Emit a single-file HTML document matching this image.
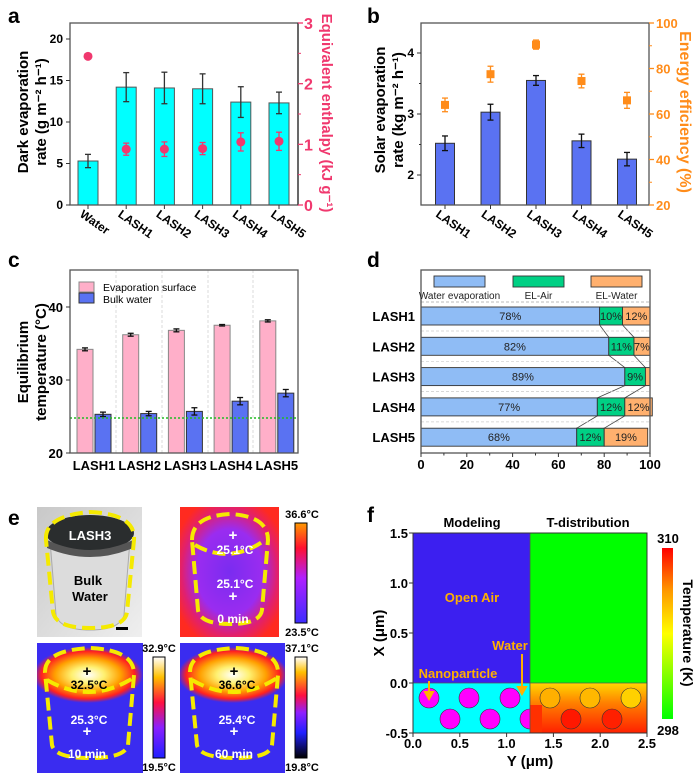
<!DOCTYPE html>
<html><head><meta charset="utf-8">
<style>
html,body{margin:0;padding:0;background:#fff;}
svg{display:block;font-family:"Liberation Sans",Arial,sans-serif;}
.b{font-weight:bold;}
</style></head>
<body>
<svg id="fig" width="700" height="782" viewBox="0 0 700 782" xmlns="http://www.w3.org/2000/svg">
<defs>
<linearGradient id="cb1" x1="0" y1="1" x2="0" y2="0"><stop offset="0" stop-color="#3c2cff"/><stop offset="0.45" stop-color="#b020ff"/><stop offset="0.75" stop-color="#ff1030"/><stop offset="1" stop-color="#ff9a00"/></linearGradient>
<linearGradient id="cb2" x1="0" y1="1" x2="0" y2="0"><stop offset="0" stop-color="#2020ff"/><stop offset="0.3" stop-color="#8a20ff"/><stop offset="0.55" stop-color="#ff1040"/><stop offset="0.8" stop-color="#ffc000"/><stop offset="1" stop-color="#ffffff"/></linearGradient>
<linearGradient id="cb3" x1="0" y1="1" x2="0" y2="0"><stop offset="0" stop-color="#000000"/><stop offset="0.25" stop-color="#2020ff"/><stop offset="0.45" stop-color="#9020ff"/><stop offset="0.62" stop-color="#ff1040"/><stop offset="0.85" stop-color="#ffc000"/><stop offset="1" stop-color="#ffffff"/></linearGradient>
<linearGradient id="cbf" x1="0" y1="1" x2="0" y2="0"><stop offset="0" stop-color="#00ff00"/><stop offset="0.5" stop-color="#ffff00"/><stop offset="0.75" stop-color="#ff9900"/><stop offset="1" stop-color="#ff0000"/></linearGradient>
<radialGradient id="th1" cx="0.5" cy="0.5" r="0.6"><stop offset="0" stop-color="#7a2cf0"/><stop offset="0.55" stop-color="#9a2cf0"/><stop offset="0.8" stop-color="#e02070"/><stop offset="1" stop-color="#ff2a20"/></radialGradient>
<radialGradient id="hot" cx="0.5" cy="0.5" r="0.5"><stop offset="0" stop-color="#ffffff"/><stop offset="0.3" stop-color="#fff070"/><stop offset="0.6" stop-color="#ffa000"/><stop offset="0.85" stop-color="#ff2020"/><stop offset="1" stop-color="#ff2020" stop-opacity="0"/></radialGradient>
<linearGradient id="photo" x1="0" y1="0" x2="1" y2="1"><stop offset="0" stop-color="#c8c8c8"/><stop offset="1" stop-color="#efefef"/></linearGradient>
<linearGradient id="fbot" x1="0" y1="0" x2="0" y2="1"><stop offset="0" stop-color="#ffd800"/><stop offset="0.4" stop-color="#ff8000"/><stop offset="1" stop-color="#ff2000"/></linearGradient>
<clipPath id="clip2"><rect x="37" y="643" width="106" height="130"/></clipPath>
<clipPath id="clip3"><rect x="180" y="643" width="105" height="130"/></clipPath>
</defs>

<!-- panel letters -->
<text class="b" x="8" y="23" font-size="21">a</text>
<text class="b" x="367" y="23" font-size="21">b</text>
<text class="b" x="8" y="267" font-size="21">c</text>
<text class="b" x="367" y="267" font-size="21">d</text>
<text class="b" x="8" y="525" font-size="21">e</text>
<text class="b" x="367" y="522" font-size="21">f</text>

<!-- axis titles -->
<g class="b" font-size="15" text-anchor="middle">
<text transform="translate(28,112) rotate(-90)">Dark evaporation</text>
<text transform="translate(46,112) rotate(-90)">rate (g m⁻² h⁻¹)</text>
</g>
<text class="b" font-size="15" fill="#f0386e" text-anchor="middle" transform="translate(322,113) rotate(90)">Equivalent enthalpy (kJ g⁻¹)</text>
<g class="b" font-size="15" text-anchor="middle">
<text transform="translate(385,110) rotate(-90)">Solar evaporation</text>
<text transform="translate(403,110) rotate(-90)">rate (kg m⁻² h⁻¹)</text>
</g>
<text class="b" font-size="16" fill="#ff8c1a" text-anchor="middle" transform="translate(680,112) rotate(90)">Energy efficiency (%)</text>
<g class="b" font-size="15" text-anchor="middle">
<text transform="translate(28,362) rotate(-90)">Equilibrium</text>
<text transform="translate(46,362) rotate(-90)">temperature (°C)</text>
</g>

<!-- panel e -->
<g>
<rect x="37" y="507" width="105" height="130" fill="url(#photo)"/>
<path d="M50 540 L56 615 Q60 630 90 630 Q120 630 124 615 L130 540 Z" fill="#dcdcdc" stroke="#aaa"/>
<ellipse cx="90" cy="533" rx="44" ry="18" fill="#2a2d2e"/>
<path d="M47 540 Q90 560 133 540 L133 548 Q90 566 47 548 Z" fill="#555"/>
<text class="b" x="90" y="540" font-size="13" fill="#fff" text-anchor="middle">LASH3</text>
<text class="b" x="88" y="585" font-size="13" text-anchor="middle">Bulk</text>
<text class="b" x="90" y="601" font-size="13" text-anchor="middle">Water</text>
<path d="M46 540 Q44 516 90 512 Q136 514 134 540 L127 612 Q125 628 90 628 Q56 628 53 612 Z" fill="none" stroke="#f5ea00" stroke-width="4" stroke-dasharray="13 6"/>
<rect x="116" y="627" width="12" height="3" fill="#000"/>
</g>
<g>
<rect x="180" y="507" width="99" height="130" fill="url(#th1)"/>
<path d="M192 540 Q192 516 230 514 Q268 516 268 540 L262 610 Q260 624 230 624 Q200 624 198 610 Z" fill="none" stroke="#f5ea00" stroke-width="4" stroke-dasharray="13 6"/>
<path d="M195 545 Q230 565 265 540" fill="none" stroke="#f5ea00" stroke-width="4" stroke-dasharray="13 6"/>
<text class="b" x="233" y="540" font-size="15" fill="#fff" text-anchor="middle">+</text>
<text class="b" x="235" y="554" font-size="12" fill="#fff" text-anchor="middle">25.1°C</text>
<text class="b" x="235" y="588" font-size="12" fill="#fff" text-anchor="middle">25.1°C</text>
<text class="b" x="233" y="601" font-size="15" fill="#fff" text-anchor="middle">+</text>
<text class="b" x="233" y="623" font-size="12" fill="#fff" text-anchor="middle">0 min</text>
<rect x="295" y="523" width="12" height="100" fill="url(#cb1)" stroke="#000"/>
<text class="b" x="302" y="518" font-size="11" text-anchor="middle">36.6°C</text>
<text class="b" x="302" y="636" font-size="11" text-anchor="middle">23.5°C</text>
</g>
<g>
<g clip-path="url(#clip2)">
<rect x="37" y="643" width="106" height="130" fill="#3a2cf0"/>
<ellipse cx="88" cy="675" rx="55" ry="28" fill="url(#hot)"/>
</g>
<path d="M45 672 Q45 650 90 648 Q135 650 134 675 L128 745 Q125 758 90 758 Q55 758 52 745 Z" fill="none" stroke="#f5ea00" stroke-width="4" stroke-dasharray="13 6"/>
<path d="M47 680 Q90 705 133 678" fill="none" stroke="#f5ea00" stroke-width="4" stroke-dasharray="13 6"/>
<text class="b" x="87" y="676" font-size="15" text-anchor="middle">+</text>
<text class="b" x="89" y="689" font-size="12" text-anchor="middle">32.5°C</text>
<text class="b" x="89" y="724" font-size="12" fill="#fff" text-anchor="middle">25.3°C</text>
<text class="b" x="87" y="736" font-size="15" fill="#fff" text-anchor="middle">+</text>
<text class="b" x="87" y="758" font-size="12" fill="#fff" text-anchor="middle">10 min</text>
<rect x="153" y="657" width="12" height="101" fill="url(#cb2)" stroke="#000"/>
<text class="b" x="159" y="652" font-size="11" text-anchor="middle">32.9°C</text>
<text class="b" x="159" y="771" font-size="11" text-anchor="middle">19.5°C</text>
</g>
<g>
<g clip-path="url(#clip3)">
<rect x="180" y="643" width="105" height="130" fill="#3a2cf0"/>
<ellipse cx="233" cy="675" rx="55" ry="28" fill="url(#hot)"/>
</g>
<path d="M190 672 Q190 650 235 648 Q280 650 278 675 L272 745 Q270 758 235 758 Q200 758 197 745 Z" fill="none" stroke="#f5ea00" stroke-width="4" stroke-dasharray="13 6"/>
<path d="M192 680 Q235 705 277 678" fill="none" stroke="#f5ea00" stroke-width="4" stroke-dasharray="13 6"/>
<text class="b" x="234" y="676" font-size="15" text-anchor="middle">+</text>
<text class="b" x="237" y="689" font-size="12" text-anchor="middle">36.6°C</text>
<text class="b" x="237" y="724" font-size="12" fill="#fff" text-anchor="middle">25.4°C</text>
<text class="b" x="234" y="736" font-size="15" fill="#fff" text-anchor="middle">+</text>
<text class="b" x="234" y="758" font-size="12" fill="#fff" text-anchor="middle">60 min</text>
<rect x="295" y="657" width="12" height="101" fill="url(#cb3)" stroke="#000"/>
<text class="b" x="302" y="652" font-size="11" text-anchor="middle">37.1°C</text>
<text class="b" x="302" y="771" font-size="11" text-anchor="middle">19.8°C</text>
</g>

<!-- panel f -->
<g>
<rect x="413" y="533" width="117" height="150" fill="#3c1ff0"/>
<rect x="530" y="533" width="117" height="150" fill="#00ff00"/>
<rect x="413" y="683" width="117" height="50" fill="#00ffff"/>
<rect x="530" y="683" width="117" height="50" fill="url(#fbot)"/>
<g fill="#ff00ff" stroke="#333" stroke-width="0.6">
<circle cx="429" cy="698" r="10"/><circle cx="469" cy="698" r="10"/><circle cx="510" cy="698" r="10"/>
<circle cx="450" cy="719" r="10"/><circle cx="490" cy="719" r="10"/><circle cx="530" cy="719" r="10"/>
</g>
<rect x="530" y="705" width="12" height="28" fill="#ff3000"/>
<g fill="none" stroke="#333" stroke-width="0.6">
<circle cx="550" cy="698" r="10" fill="#ffb000"/><circle cx="590" cy="698" r="10" fill="#ffb800"/><circle cx="631" cy="698" r="10" fill="#ffd000"/>
<circle cx="571" cy="719" r="10" fill="#ff1800"/><circle cx="612" cy="719" r="10" fill="#ff2000"/>
</g>
<line x1="530" y1="533" x2="530" y2="733" stroke="#555" stroke-width="0.8"/>
<line x1="413" y1="683" x2="647" y2="683" stroke="#555" stroke-width="0.8"/>
<rect x="413" y="533" width="234" height="200" fill="none" stroke="#333"/>
<text class="b" x="472" y="527" font-size="13" text-anchor="middle">Modeling</text>
<text class="b" x="588" y="527" font-size="13" text-anchor="middle">T-distribution</text>
<text class="b" x="472" y="602" font-size="13" fill="#ffb000" text-anchor="middle">Open Air</text>
<text class="b" x="510" y="650" font-size="13" fill="#ffb000" text-anchor="middle">Water</text>
<text class="b" x="458" y="678" font-size="13" fill="#ffb000" text-anchor="middle">Nanoparticle</text>
<g stroke="#ffb000" stroke-width="2" fill="#ffb000">
<line x1="522" y1="654" x2="522" y2="689"/><path d="M518 687 L526 687 L522 694 Z"/>
<line x1="429" y1="681" x2="429" y2="694"/><path d="M425 692 L433 692 L429 699 Z"/>
</g>
<rect x="662" y="548" width="11" height="171" fill="url(#cbf)"/>
<text class="b" x="668" y="543" font-size="13" text-anchor="middle">310</text>
<text class="b" x="668" y="735" font-size="13" text-anchor="middle">298</text>
<text class="b" font-size="14" text-anchor="middle" transform="translate(683,633) rotate(90)">Temperature (K)</text>
<text class="b" x="530" y="766" font-size="15" text-anchor="middle">Y (μm)</text>
<text class="b" font-size="15" text-anchor="middle" transform="translate(384,633) rotate(-90)">X (μm)</text>
</g>
<g id="dyn"></g>
</svg>
<script>
const NS='http://www.w3.org/2000/svg';
const root=document.getElementById('dyn');
function mk(tag,attrs,parent){const e=document.createElementNS(NS,tag);for(const k in attrs)e.setAttribute(k,attrs[k]);(parent||root).appendChild(e);return e;}

// ---------- data ----------
const aCats=['Water','LASH1','LASH2','LASH3','LASH4','LASH5'];
const aRate=[5.3,14.2,14.1,14.0,12.4,12.3];
const aRateErr=[0.8,1.75,1.9,1.8,1.85,1.3];
const aEnth=[2.45,0.92,0.92,0.93,1.04,1.05];
const aEnthErr=[0,0.1,0.12,0.1,0.15,0.15];
const aLeftTicks=[0,5,10,15,20];
const aRightTicks=[0,1,2,3];

const bCats=['LASH1','LASH2','LASH3','LASH4','LASH5'];
const bRate=[2.52,3.03,3.55,2.56,2.26];
const bRateErr=[0.12,0.13,0.08,0.11,0.11];
const bEff=[64,77.5,90.5,74.5,66];
const bEffErr=[3,3.5,2,3,3.5];
const bLeftTicks=[2,3,4];
const bRightTicks=[20,40,60,80,100];

const cCats=['LASH1','LASH2','LASH3','LASH4','LASH5'];
const cSurf=[34.2,36.2,36.8,37.5,38.1];
const cSurfErr=[0.2,0.2,0.2,0.1,0.15];
const cBulk=[25.3,25.4,25.7,27.1,28.2];
const cBulkErr=[0.3,0.3,0.5,0.5,0.5];
const cAmbient=[24.8];
const cTicks=[20,30,40];

const dCats=['LASH1','LASH2','LASH3','LASH4','LASH5'];
const dEvap=[78,82,89,77,68];
const dAir=[10,11,9,12,12];
const dWater=[12,7,2,12,19];
const dTicks=[0,20,40,60,80,100];

const fXTicks=['0.0','0.5','1.0','1.5','2.0','2.5'];
const fYTicks=['-0.5','0.0','0.5','1.0','1.5'];

// ---------- helpers ----------
function errBar(x,y1,y2,color,name){
  const g=mk('g',{stroke:color,'stroke-width':1.3});
  
  
  mk('line',{x1:x,y1:y1,x2:x,y2:y2},g);
  mk('line',{x1:x-3,y1:y1,x2:x+3,y2:y1},g);
  mk('line',{x1:x-3,y1:y2,x2:x+3,y2:y2},g);
}
function tickLabel(x,y,txt,anchor,color,size){
  const t=mk('text',{x:x,y:y,'text-anchor':anchor,'font-size':size||12,'font-weight':'bold',fill:color||'#000'});
  t.textContent=txt;
  
  
  return t;
}
function frame(x0,y0,x1,y1,name){
  const r=mk('rect',{x:x0,y:y0,width:x1-x0,height:y1-y0,fill:'none',stroke:'#555','stroke-width':1.3});
  
  
}
function rotLabel(x,y,txt){
  const t=mk('text',{x:x,y:y,'font-size':12,'font-weight':'bold',transform:'rotate(35 '+x+' '+y+')'});
  t.textContent=txt;
  
  
}

// ---------- panel a ----------
(function(){
  const X0=70,X1=298,YB=205,YT=23;
  const y=v=>YB-v*8.3, y2=v=>YB-v*(YB-YT)/3, x=i=>88+i*38.2;
  aRate.forEach((v,i)=>{
    const r=mk('rect',{x:x(i)-10,y:y(v),width:20,height:YB-y(v),fill:'#00ffff',stroke:'#555','stroke-width':1});
    
    
    errBar(x(i),y(v-aRateErr[i]),y(v+aRateErr[i]),'#333','rate-error-bar');
  });
  aEnth.forEach((v,i)=>{
    if(aEnthErr[i]>0) errBar(x(i),y2(v-aEnthErr[i]),y2(v+aEnthErr[i]),'#f0386e','enthalpy-error-bar');
    const c=mk('circle',{cx:x(i),cy:y2(v),r:4.5,fill:'#f0386e'});
    
    
  });
  frame(X0,YT,X1,YB,'a-plot-frame');
  const pr=mk('line',{x1:X1,y1:YT,x2:X1,y2:YB,stroke:'#333','stroke-width':1.3});
  
  
  aLeftTicks.forEach(v=>{mk('line',{x1:X0-4,y1:y(v),x2:X0,y2:y(v),stroke:'#333'});tickLabel(X0-7,y(v)+4,String(v),'end');});
  aRightTicks.forEach(v=>{mk('line',{x1:X1,y1:y2(v),x2:X1+5,y2:y2(v),stroke:'#f0386e','stroke-width':1.3});tickLabel(X1+6,y2(v)+6,String(v),'start','#f0386e',16);});
  for(let v=0.5;v<3;v+=1) mk('line',{x1:X1,y1:y2(v),x2:X1+3,y2:y2(v),stroke:'#f0386e'});
  aCats.forEach((c,i)=>{mk('line',{x1:x(i),y1:YB,x2:x(i),y2:YB+4,stroke:'#333'});rotLabel(x(i)-9,216,c);});
})();

// ---------- panel b ----------
(function(){
  const X0=421,X1=649,YB=205,YT=23;
  const y=v=>175-(v-2)*61, y2=v=>YB-(v-20)*(YB-YT)/80, x=i=>445+i*45.5;
  bRate.forEach((v,i)=>{
    const r=mk('rect',{x:x(i)-9.5,y:y(v),width:19,height:YB-y(v),fill:'#5a72f2',stroke:'#333','stroke-width':1});
    
    
    errBar(x(i),y(v-bRateErr[i]),y(v+bRateErr[i]),'#111','rate-error-bar');
  });
  bEff.forEach((v,i)=>{
    errBar(x(i),y2(v-bEffErr[i]),y2(v+bEffErr[i]),'#ff8c1a','efficiency-error-bar');
    const s=mk('rect',{x:x(i)-4,y:y2(v)-4,width:8,height:8,fill:'#ff8c1a'});
    
    
  });
  frame(X0,YT,X1,YB,'b-plot-frame');
  bLeftTicks.forEach(v=>{mk('line',{x1:X0-4,y1:y(v),x2:X0,y2:y(v),stroke:'#333'});tickLabel(X0-7,y(v)+4,String(v),'end');});
  [2.5,3.5].forEach(v=>mk('line',{x1:X0-2,y1:y(v),x2:X0,y2:y(v),stroke:'#333'}));
  bRightTicks.forEach(v=>{mk('line',{x1:X1,y1:y2(v),x2:X1+5,y2:y2(v),stroke:'#ff8c1a','stroke-width':1.3});tickLabel(X1+7,y2(v)+5,String(v),'start','#ff8c1a',13);});
  for(let v=30;v<100;v+=20) mk('line',{x1:X1,y1:y2(v),x2:X1+3,y2:y2(v),stroke:'#ff8c1a'});
  bCats.forEach((c,i)=>{mk('line',{x1:x(i),y1:YB,x2:x(i),y2:YB+4,stroke:'#333'});rotLabel(x(i)-10,216,c);});
})();

// ---------- panel c ----------
(function(){
  const X0=70,X1=298,YB=453,YT=270;
  const y=v=>YB-(v-20)*7.3, xs=i=>85+i*45.7, xb=i=>103+i*45.7;
  [116,162,208,253].forEach(gx=>mk('line',{x1:gx,y1:YT,x2:gx,y2:YB,stroke:'#ccc','stroke-dasharray':'3 2','stroke-width':0.7}));
  cSurf.forEach((v,i)=>{
    const r=mk('rect',{x:xs(i)-8,y:y(v),width:16,height:YB-y(v),fill:'#ffafc9',stroke:'#888','stroke-width':1});
    
    
    errBar(xs(i),y(v-cSurfErr[i]),y(v+cSurfErr[i]),'#111','surface-error-bar');
  });
  cBulk.forEach((v,i)=>{
    const r=mk('rect',{x:xb(i)-8,y:y(v),width:16,height:YB-y(v),fill:'#5a72f2',stroke:'#333','stroke-width':1});
    
    
    errBar(xb(i),y(v-cBulkErr[i]),y(v+cBulkErr[i]),'#111','bulk-error-bar');
  });
  const amb=mk('line',{x1:X0,y1:y(cAmbient[0]),x2:X1,y2:y(cAmbient[0]),stroke:'#22bb22','stroke-width':1.5,'stroke-dasharray':'2 2'});
  
  
  frame(X0,YT,X1,YB,'c-plot-frame');
  cTicks.forEach(v=>{mk('line',{x1:X0-4,y1:y(v),x2:X0,y2:y(v),stroke:'#333'});tickLabel(X0-7,y(v)+5,String(v),'end','#000',13);});
  cCats.forEach((c,i)=>{const t=tickLabel((xs(i)+xb(i))/2,470,c,'middle','#000',13);});
  const lg=mk('g',{});
  
  
  mk('rect',{x:79,y:282,width:15,height:10,fill:'#ffafc9',stroke:'#888'},lg);
  mk('rect',{x:79,y:293,width:15,height:10,fill:'#5a72f2',stroke:'#333'},lg);
  const t1=mk('text',{x:103,y:291,'font-size':10.5},lg);t1.textContent='Evaporation  surface';
  const t2=mk('text',{x:103,y:303,'font-size':10.5},lg);t2.textContent='Bulk water';
})();

// ---------- panel d ----------
(function(){
  const X0=421,X1=650,YB=453,YT=270;
  const x=v=>X0+v*(X1-X0)/100, yc=i=>316+i*30.3, H=18;
  const cols=['#8fbcf5','#00d084','#ffb06e'];
  mk('line',{x1:X0,y1:302,x2:X1,y2:302,stroke:'#bbb','stroke-dasharray':'3 2'});
  dCats.forEach((c,i)=>{
    const segs=[dEvap[i],dAir[i],dWater[i]];
    let acc=0;
    segs.forEach((v,k)=>{
      const r=mk('rect',{x:x(acc),y:yc(i)-H/2,width:x(acc+v)-x(acc),height:H,fill:cols[k],stroke:'#333','stroke-width':0.9});
      
      
      if(v>=5){
        const t=mk('text',{x:(x(acc)+x(acc+v))/2,y:yc(i)+4,'font-size':11,'text-anchor':'middle',fill:'#222'});
        t.textContent=v+'%';
        
        
      }
      acc+=v;
    });
    const t=tickLabel(X0-6,yc(i)+5,c,'end','#000',13);
    
    if(i<dCats.length-1){
      mk('line',{x1:x(dEvap[i]),y1:yc(i)+H/2,x2:x(dEvap[i+1]),y2:yc(i+1)-H/2,stroke:'#444','stroke-width':0.8});
      mk('line',{x1:x(dEvap[i]+dAir[i]),y1:yc(i)+H/2,x2:x(dEvap[i+1]+dAir[i+1]),y2:yc(i+1)-H/2,stroke:'#444','stroke-width':0.8});
      mk('line',{x1:X0,y1:yc(i)+15,x2:X1,y2:yc(i)+15,stroke:'#ccc','stroke-dasharray':'3 2','stroke-width':0.7});
    }
  });
  frame(X0,YT,X1,YB,'d-plot-frame');
  dTicks.forEach(v=>{mk('line',{x1:x(v),y1:YB,x2:x(v),y2:YB+4,stroke:'#333'});tickLabel(x(v),469,String(v),'middle','#000',13);});
  for(let v=10;v<100;v+=20) mk('line',{x1:x(v),y1:YB,x2:x(v),y2:YB+2.5,stroke:'#333'});
  const lg=mk('g',{});
  
  
  const lx=[434,513,591], lt=['Water evaporation','EL-Air','EL-Water'];
  lx.forEach((v,k)=>{
    mk('rect',{x:v,y:276,width:51,height:11,fill:cols[k],stroke:'#333','stroke-width':0.9},lg);
    const t=mk('text',{x:v+25.5,y:299,'font-size':10,'text-anchor':'middle',fill:'#222'},lg);
    t.textContent=lt[k];
  });
})();

// ---------- panel f ticks ----------
(function(){
  const X0=413,YB=733;
  const x=v=>X0+v*93.6, y=v=>683-v*100;
  fXTicks.forEach(s=>{const v=parseFloat(s);mk('line',{x1:x(v),y1:YB,x2:x(v),y2:YB+4,stroke:'#333'});tickLabel(x(v),748,s,'middle','#000',13);});
  fYTicks.forEach(s=>{const v=parseFloat(s);mk('line',{x1:X0-4,y1:y(v),x2:X0,y2:y(v),stroke:'#333'});tickLabel(X0-5,y(v)+5,s,'end','#000',13);});
})();
</script>
</body></html>
